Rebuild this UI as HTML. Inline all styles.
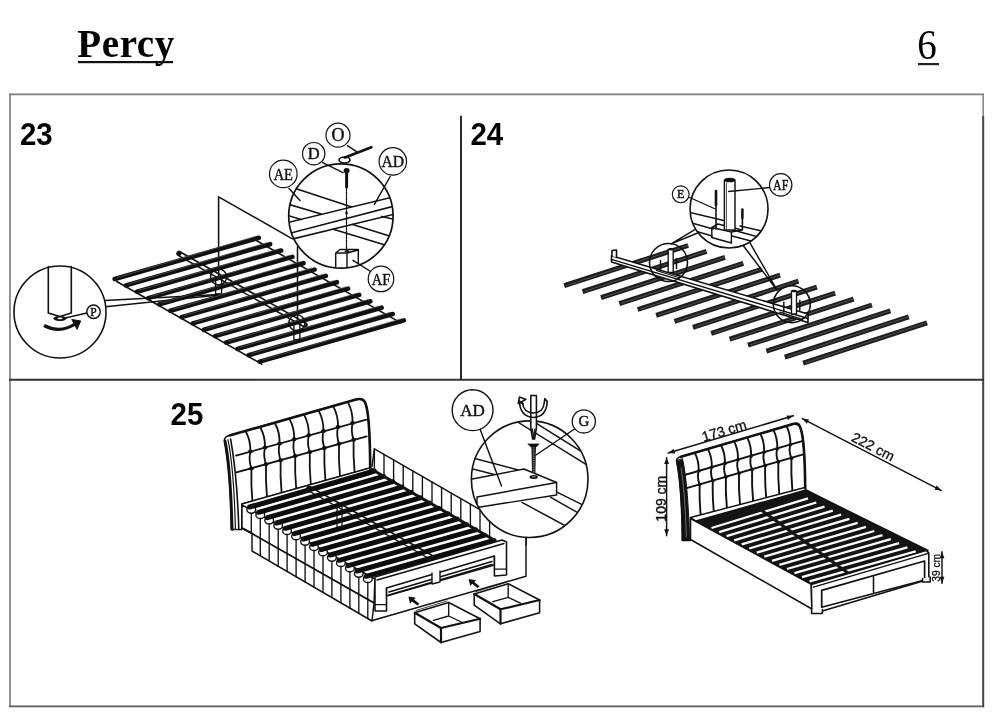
<!DOCTYPE html>
<html><head><meta charset="utf-8"><style>
html,body{margin:0;padding:0;background:#fff;}
body{width:1000px;height:714px;overflow:hidden;position:relative;font-family:"Liberation Serif",serif;}
.t{position:absolute;color:#000;line-height:1;white-space:nowrap;}
svg{position:absolute;left:0;top:0;will-change:transform;}
</style></head><body>
<svg width="1000" height="714" viewBox="0 0 1000 714" stroke-linecap="round" stroke-linejoin="round">
<text x="77.3" y="56.6" font-family="Liberation Serif" font-weight="bold" font-size="39" letter-spacing="0.6" fill="#000">Percy</text>
<rect x="78" y="61" width="95" height="2.2" fill="#111"/>
<text transform="translate(917.2,58.9) scale(0.93,1)" font-family="Liberation Serif" font-size="42" fill="#000">6</text>
<rect x="918" y="63" width="21" height="2.2" fill="#222"/>
<line x1="10" y1="94.4" x2="983.2" y2="94.4" stroke="#7c7c7c" stroke-width="1.6" stroke-linecap="square"/>
<line x1="10" y1="94.4" x2="10" y2="706.3" stroke="#767676" stroke-width="1.6" stroke-linecap="square"/>
<line x1="10" y1="706.3" x2="983.2" y2="706.3" stroke="#5c5c5c" stroke-width="1.8" stroke-linecap="square"/>
<line x1="983.2" y1="94.4" x2="983.2" y2="117" stroke="#888" stroke-width="1.6"/>
<line x1="983.2" y1="117" x2="983.2" y2="706.3" stroke="#444" stroke-width="2" stroke-linecap="square"/>
<line x1="10" y1="379.8" x2="983" y2="379.8" stroke="#333" stroke-width="2.1"/>
<line x1="461" y1="116.6" x2="461" y2="379" stroke="#2a2a2a" stroke-width="2"/>
<line x1="116.7" y1="281.5" x2="261.65000000000003" y2="364.05" stroke="#111" stroke-width="1.6"/>
<line x1="255.89999999999998" y1="240.3" x2="400.85" y2="322.85" stroke="#111" stroke-width="1.6"/>
<path d="M179,253.5 L305,325" stroke="#111" stroke-width="5.5"/>
<path d="M181,254.8 L305,325" stroke="#fff" stroke-width="2.4" stroke-linecap="butt"/>
<polyline points="218.6,276 218.6,196.8 292.4,238.8" fill="none" stroke="#111" stroke-width="1.55"/>
<line x1="297.5" y1="247" x2="297.5" y2="322" stroke="#111" stroke-width="1.55"/>
<polyline points="104.6,300.4 219,294.5" fill="none" stroke="#111" stroke-width="1.55"/>
<polyline points="105.4,306.8 219,295" fill="none" stroke="#111" stroke-width="1.55"/>
<line x1="114.7" y1="279.0" x2="258.9" y2="237.8" stroke="#111" stroke-width="4.6"/>
<line x1="117.7" y1="277.4" x2="255.9" y2="236.2" stroke="#666" stroke-width="0.6"/>
<line x1="125.9" y1="285.4" x2="270.1" y2="244.2" stroke="#111" stroke-width="4.6"/>
<line x1="128.9" y1="283.8" x2="267.1" y2="242.6" stroke="#666" stroke-width="0.6"/>
<line x1="137.0" y1="291.7" x2="281.2" y2="250.5" stroke="#111" stroke-width="4.6"/>
<line x1="140.0" y1="290.1" x2="278.2" y2="248.9" stroke="#666" stroke-width="0.6"/>
<line x1="148.2" y1="298.1" x2="292.4" y2="256.9" stroke="#111" stroke-width="4.6"/>
<line x1="151.2" y1="296.4" x2="289.4" y2="255.3" stroke="#666" stroke-width="0.6"/>
<line x1="159.3" y1="304.4" x2="303.5" y2="263.2" stroke="#111" stroke-width="4.6"/>
<line x1="162.3" y1="302.8" x2="300.5" y2="261.6" stroke="#666" stroke-width="0.6"/>
<line x1="170.4" y1="310.8" x2="314.6" y2="269.6" stroke="#111" stroke-width="4.6"/>
<line x1="173.4" y1="309.1" x2="311.6" y2="267.9" stroke="#666" stroke-width="0.6"/>
<line x1="181.6" y1="317.1" x2="325.8" y2="275.9" stroke="#111" stroke-width="4.6"/>
<line x1="184.6" y1="315.5" x2="322.8" y2="274.3" stroke="#666" stroke-width="0.6"/>
<line x1="192.8" y1="323.4" x2="336.9" y2="282.2" stroke="#111" stroke-width="4.6"/>
<line x1="195.8" y1="321.8" x2="333.9" y2="280.6" stroke="#666" stroke-width="0.6"/>
<line x1="203.9" y1="329.8" x2="348.1" y2="288.6" stroke="#111" stroke-width="4.6"/>
<line x1="206.9" y1="328.2" x2="345.1" y2="287.0" stroke="#666" stroke-width="0.6"/>
<line x1="215.1" y1="336.1" x2="359.2" y2="294.9" stroke="#111" stroke-width="4.6"/>
<line x1="218.1" y1="334.5" x2="356.2" y2="293.3" stroke="#666" stroke-width="0.6"/>
<line x1="226.2" y1="342.5" x2="370.4" y2="301.3" stroke="#111" stroke-width="4.6"/>
<line x1="229.2" y1="340.9" x2="367.4" y2="299.7" stroke="#666" stroke-width="0.6"/>
<line x1="237.4" y1="348.9" x2="381.6" y2="307.7" stroke="#111" stroke-width="4.6"/>
<line x1="240.4" y1="347.2" x2="378.6" y2="306.1" stroke="#666" stroke-width="0.6"/>
<line x1="248.5" y1="355.2" x2="392.7" y2="314.0" stroke="#111" stroke-width="4.6"/>
<line x1="251.5" y1="353.6" x2="389.7" y2="312.4" stroke="#666" stroke-width="0.6"/>
<line x1="259.7" y1="361.6" x2="403.9" y2="320.4" stroke="#111" stroke-width="4.6"/>
<line x1="262.7" y1="359.9" x2="400.9" y2="318.8" stroke="#666" stroke-width="0.6"/>
<rect x="215.6" y="276.9" width="6" height="17" fill="none" stroke="#111" stroke-width="1.35"/>
<circle cx="218.6" cy="276.9" r="8" fill="none" stroke="#111" stroke-width="1.45"/>
<rect x="293.9" y="322.8" width="6" height="17" fill="none" stroke="#111" stroke-width="1.35"/>
<circle cx="296.9" cy="322.8" r="8" fill="none" stroke="#111" stroke-width="1.45"/>
<circle cx="60" cy="312" r="46" fill="#fff" stroke="#111" stroke-width="1.6"/>
<path d="M48.3,266.5 L48.3,313 L60,316.5 L71.3,313 L71.3,266.5" fill="none" stroke="#111" stroke-width="1.6"/>
<ellipse cx="60" cy="318.5" rx="6.2" ry="2" fill="#111" stroke="#111" stroke-width="1"/>
<ellipse cx="60" cy="318.3" rx="2.6" ry="0.9" fill="#fff"/>
<path d="M44,325.5 Q60,334 76,323.5" fill="none" stroke="#111" stroke-width="3.2" stroke-linecap="butt"/>
<path d="M72,319.5 L80.5,321 L77,329 Z" fill="#111" stroke="#111" stroke-width="1.25"/>
<line x1="65" y1="318" x2="87" y2="313" stroke="#111" stroke-width="1.45"/>
<circle cx="93.5" cy="311.8" r="6.7" fill="#fff" stroke="#111" stroke-width="1.45"/>
<text x="93.5" y="315.8" text-anchor="middle" font-family="Liberation Serif" font-size="11.5" fill="#111" stroke="#111" stroke-width="0.4">P</text>
<defs><clipPath id="c23"><circle cx="340.9" cy="216" r="52.2"/></clipPath></defs>
<circle cx="340.9" cy="216" r="52.2" fill="#fff"/>
<g clip-path="url(#c23)" stroke="#111" stroke-width="1.55" fill="none"><line x1="297" y1="189" x2="351" y2="206.7"/><line x1="352.6" y1="224.4" x2="392" y2="236.8"/><line x1="286" y1="203.5" x2="321.2" y2="214"/><line x1="333.3" y1="229.2" x2="390" y2="246.5"/><line x1="286" y1="214.8" x2="301" y2="219.6"/><line x1="381.6" y1="216.4" x2="394" y2="219.3"/><line x1="286" y1="223" x2="396" y2="196.3"/><line x1="286" y1="234.3" x2="396" y2="205.6"/><line x1="286" y1="240.6" x2="396" y2="213.8"/></g>
<line x1="346.5" y1="186" x2="346.5" y2="250" stroke="#111" stroke-width="1.25" stroke-dasharray="2,1"/>
<circle cx="346.5" cy="213" r="1.3" fill="#111"/>
<path d="M335.7,253 L335.7,267 M347,253 L347,267.5 M358.3,250 L358.3,263.5 M335.7,253 L340,249.5 L358.3,249.5 L358.3,250 L347,253 Z" fill="none" stroke="#111" stroke-width="1.45"/>
<ellipse cx="347" cy="251.3" rx="2.6" ry="1" fill="#111"/>
<circle cx="340.9" cy="216" r="52.2" fill="none" stroke="#111" stroke-width="1.7"/>
<line x1="346.6" y1="172" x2="346.6" y2="187" stroke="#111" stroke-width="3"/>
<ellipse cx="346.6" cy="170.5" rx="3" ry="2.6" fill="#111"/>
<line x1="371.4" y1="147.2" x2="345" y2="157.5" stroke="#111" stroke-width="2.6"/>
<ellipse cx="344.5" cy="160" rx="5.5" ry="3" fill="none" stroke="#111" stroke-width="1.7"/>
<line x1="322.7" y1="162.7" x2="343" y2="172.7" stroke="#111" stroke-width="1.45"/>
<line x1="347.5" y1="145.7" x2="356.5" y2="151.7" stroke="#111" stroke-width="1.45"/>
<line x1="289" y1="188.5" x2="300" y2="200.4" stroke="#111" stroke-width="1.45"/>
<line x1="390.2" y1="176.5" x2="374.4" y2="204.4" stroke="#111" stroke-width="1.45"/>
<line x1="373" y1="273" x2="353" y2="260.3" stroke="#111" stroke-width="1.45"/>
<circle cx="338" cy="135.2" r="12" fill="#fff" stroke="#111" stroke-width="1.2"/>
<text transform="translate(338,141.47) scale(0.95,1)" text-anchor="middle" font-family="Liberation Serif" font-size="19" fill="#111" stroke="#111" stroke-width="0.45">O</text>
<circle cx="313.7" cy="153.7" r="11.2" fill="#fff" stroke="#111" stroke-width="1.2"/>
<text transform="translate(313.7,159.14) scale(1.0,1)" text-anchor="middle" font-family="Liberation Serif" font-size="16.5" fill="#111" stroke="#111" stroke-width="0.45">D</text>
<circle cx="283.3" cy="173.9" r="13.8" fill="#fff" stroke="#111" stroke-width="1.2"/>
<text transform="translate(283.3,179.51) scale(0.85,1)" text-anchor="middle" font-family="Liberation Serif" font-size="17" fill="#111" stroke="#111" stroke-width="0.45">AE</text>
<circle cx="392.8" cy="161.4" r="13.7" fill="#fff" stroke="#111" stroke-width="1.2"/>
<text transform="translate(392.8,167.14) scale(0.9,1)" text-anchor="middle" font-family="Liberation Serif" font-size="17.4" fill="#111" stroke="#111" stroke-width="0.45">AD</text>
<circle cx="381" cy="278.9" r="12.8" fill="#fff" stroke="#111" stroke-width="1.2"/>
<text transform="translate(381,284.51) scale(0.85,1)" text-anchor="middle" font-family="Liberation Serif" font-size="17" fill="#111" stroke="#111" stroke-width="0.45">AF</text>
<line x1="564.2" y1="285.7" x2="688.2" y2="245.5" stroke="#1e1e1e" stroke-width="4.9" stroke-linecap="butt"/>
<line x1="566.2" y1="285.5" x2="688.2" y2="245.3" stroke="#5a5a5a" stroke-width="0.8" stroke-linecap="butt"/>
<line x1="582.6" y1="291.6" x2="706.6" y2="251.4" stroke="#1e1e1e" stroke-width="4.9" stroke-linecap="butt"/>
<line x1="584.6" y1="291.4" x2="706.6" y2="251.2" stroke="#5a5a5a" stroke-width="0.8" stroke-linecap="butt"/>
<line x1="601.0" y1="297.6" x2="725.0" y2="257.4" stroke="#1e1e1e" stroke-width="4.9" stroke-linecap="butt"/>
<line x1="603.0" y1="297.4" x2="725.0" y2="257.2" stroke="#5a5a5a" stroke-width="0.8" stroke-linecap="butt"/>
<line x1="619.3" y1="303.6" x2="743.3" y2="263.4" stroke="#1e1e1e" stroke-width="4.9" stroke-linecap="butt"/>
<line x1="621.3" y1="303.4" x2="743.3" y2="263.2" stroke="#5a5a5a" stroke-width="0.8" stroke-linecap="butt"/>
<line x1="637.7" y1="309.5" x2="761.7" y2="269.3" stroke="#1e1e1e" stroke-width="4.9" stroke-linecap="butt"/>
<line x1="639.7" y1="309.3" x2="761.7" y2="269.1" stroke="#5a5a5a" stroke-width="0.8" stroke-linecap="butt"/>
<line x1="656.1" y1="315.4" x2="780.1" y2="275.2" stroke="#1e1e1e" stroke-width="4.9" stroke-linecap="butt"/>
<line x1="658.1" y1="315.2" x2="780.1" y2="275.1" stroke="#5a5a5a" stroke-width="0.8" stroke-linecap="butt"/>
<line x1="674.5" y1="321.4" x2="798.5" y2="281.2" stroke="#1e1e1e" stroke-width="4.9" stroke-linecap="butt"/>
<line x1="676.5" y1="321.2" x2="798.5" y2="281.0" stroke="#5a5a5a" stroke-width="0.8" stroke-linecap="butt"/>
<line x1="692.9" y1="327.3" x2="816.9" y2="287.1" stroke="#1e1e1e" stroke-width="4.9" stroke-linecap="butt"/>
<line x1="694.9" y1="327.1" x2="816.9" y2="286.9" stroke="#5a5a5a" stroke-width="0.8" stroke-linecap="butt"/>
<line x1="711.2" y1="333.3" x2="835.2" y2="293.1" stroke="#1e1e1e" stroke-width="4.9" stroke-linecap="butt"/>
<line x1="713.2" y1="333.1" x2="835.2" y2="292.9" stroke="#5a5a5a" stroke-width="0.8" stroke-linecap="butt"/>
<line x1="729.6" y1="339.2" x2="853.6" y2="299.1" stroke="#1e1e1e" stroke-width="4.9" stroke-linecap="butt"/>
<line x1="731.6" y1="339.1" x2="853.6" y2="298.9" stroke="#5a5a5a" stroke-width="0.8" stroke-linecap="butt"/>
<line x1="748.0" y1="345.2" x2="872.0" y2="305.0" stroke="#1e1e1e" stroke-width="4.9" stroke-linecap="butt"/>
<line x1="750.0" y1="345.0" x2="872.0" y2="304.8" stroke="#5a5a5a" stroke-width="0.8" stroke-linecap="butt"/>
<line x1="766.4" y1="351.1" x2="890.4" y2="310.9" stroke="#1e1e1e" stroke-width="4.9" stroke-linecap="butt"/>
<line x1="768.4" y1="350.9" x2="890.4" y2="310.8" stroke="#5a5a5a" stroke-width="0.8" stroke-linecap="butt"/>
<line x1="784.8" y1="357.1" x2="908.8" y2="316.9" stroke="#1e1e1e" stroke-width="4.9" stroke-linecap="butt"/>
<line x1="786.8" y1="356.9" x2="908.8" y2="316.7" stroke="#5a5a5a" stroke-width="0.8" stroke-linecap="butt"/>
<line x1="803.1" y1="363.1" x2="927.1" y2="322.9" stroke="#1e1e1e" stroke-width="4.9" stroke-linecap="butt"/>
<line x1="805.1" y1="362.9" x2="927.1" y2="322.7" stroke="#5a5a5a" stroke-width="0.8" stroke-linecap="butt"/>
<path d="M611.5,255.8 L808,314 L808,322.5 L611.5,262 Z" fill="#fff" stroke="#111" stroke-width="1.6"/>
<line x1="611.5" y1="259.3" x2="808" y2="318.5" stroke="#111" stroke-width="1.35"/>
<path d="M612,256 L612,250.5 L616.5,250 L616.5,257.5" fill="#fff" stroke="#111" stroke-width="1.6"/>
<circle cx="668.5" cy="262.5" r="19" fill="none" stroke="#111" stroke-width="1.55"/>
<rect x="668.2" y="249.3" width="5" height="23" fill="#fff" stroke="#111" stroke-width="1.35"/>
<ellipse cx="670.7" cy="249.3" rx="2.5" ry="1.2" fill="#111"/>
<line x1="660.5" y1="260.5" x2="660.5" y2="270.5" stroke="#111" stroke-width="1.45"/>
<line x1="676.5" y1="258.5" x2="676.5" y2="268.5" stroke="#111" stroke-width="1.45"/>
<path d="M656.5,270.5 L678.5,277.5 L682.5,275.5" fill="none" stroke="#111" stroke-width="1.25"/>
<circle cx="791.8" cy="304.2" r="18.5" fill="none" stroke="#111" stroke-width="1.55"/>
<rect x="791.5" y="291.0" width="5" height="23" fill="#fff" stroke="#111" stroke-width="1.35"/>
<ellipse cx="794.0" cy="291.0" rx="2.5" ry="1.2" fill="#111"/>
<line x1="783.8" y1="302.2" x2="783.8" y2="312.2" stroke="#111" stroke-width="1.45"/>
<line x1="799.8" y1="300.2" x2="799.8" y2="310.2" stroke="#111" stroke-width="1.45"/>
<path d="M779.8,312.2 L801.8,319.2 L805.8,317.2" fill="none" stroke="#111" stroke-width="1.25"/>
<polyline points="694.4,229.8 671.2,243.8 697.6,233" fill="none" stroke="#111" stroke-width="1.45"/>
<polyline points="742,244 777.1,290.2 749.8,242.6" fill="none" stroke="#111" stroke-width="1.45"/>
<defs><clipPath id="c24"><circle cx="729" cy="209" r="39"/></clipPath></defs>
<circle cx="729" cy="209" r="39" fill="#fff"/>
<g clip-path="url(#c24)" stroke="#111" stroke-width="1.45" fill="none"><line x1="688" y1="212" x2="730" y2="222"/><line x1="688" y1="222" x2="713" y2="229"/><line x1="688" y1="229" x2="712" y2="236"/><line x1="731" y1="229.5" x2="770" y2="240"/><line x1="732" y1="236" x2="770" y2="246"/><line x1="740" y1="226" x2="770" y2="233"/><path d="M711.8,227.5 L711.8,237.5 L731.4,243 L731.4,232 Z M711.8,227.5 L718,224 L742,230 L731.4,232"/></g>
<rect x="724.4" y="180" width="10.6" height="50" fill="#fff" stroke="#111" stroke-width="1.45"/>
<ellipse cx="729.7" cy="180" rx="5.3" ry="2.3" fill="#111"/>
<line x1="726.5" y1="183" x2="726.5" y2="229" stroke="#111" stroke-width="0.7"/>
<line x1="716" y1="191" x2="716" y2="229" stroke="#111" stroke-width="1.6"/>
<line x1="716" y1="191" x2="716" y2="205" stroke="#111" stroke-width="2.6"/>
<line x1="742.4" y1="209.5" x2="742.4" y2="230" stroke="#111" stroke-width="1.6"/>
<line x1="742.4" y1="209.5" x2="742.4" y2="218" stroke="#111" stroke-width="2.4"/>
<circle cx="729" cy="209" r="39" fill="none" stroke="#111" stroke-width="1.6"/>
<line x1="688.5" y1="197" x2="715.3" y2="209" stroke="#111" stroke-width="1.35"/>
<line x1="769.8" y1="187.5" x2="728.6" y2="191.5" stroke="#111" stroke-width="1.35"/>
<circle cx="680.7" cy="194.3" r="8.4" fill="#fff" stroke="#111" stroke-width="1.1"/>
<text transform="translate(680.7,198.26) scale(1.0,1)" text-anchor="middle" font-family="Liberation Serif" font-size="12" fill="#111" stroke="#111" stroke-width="0.45">E</text>
<circle cx="780.7" cy="184.9" r="11.2" fill="#fff" stroke="#111" stroke-width="1.2"/>
<text transform="translate(780.7,189.52) scale(0.85,1)" text-anchor="middle" font-family="Liberation Serif" font-size="14" fill="#111" stroke="#111" stroke-width="0.45">AF</text>
<path d="M374.4,448.8 L525.7,536.0 L525.7,576.0 L372.0,466.5 Z" fill="#fff" stroke="none"/>
<path d="M372.0,466.5 L374.4,448.8 L525.7,536.0" fill="none" stroke="#111" stroke-width="1.45"/>
<line x1="374.4" y1="448.8" x2="374.4" y2="469.9" stroke="#111" stroke-width="1.35"/>
<line x1="384.0" y1="454.3" x2="384.0" y2="475.7" stroke="#111" stroke-width="1.35"/>
<line x1="393.6" y1="459.9" x2="393.6" y2="481.5" stroke="#111" stroke-width="1.35"/>
<line x1="403.2" y1="465.4" x2="403.2" y2="487.2" stroke="#111" stroke-width="1.35"/>
<line x1="412.8" y1="470.9" x2="412.8" y2="493.0" stroke="#111" stroke-width="1.35"/>
<line x1="422.4" y1="476.4" x2="422.4" y2="498.7" stroke="#111" stroke-width="1.35"/>
<line x1="432.0" y1="482.0" x2="432.0" y2="504.5" stroke="#111" stroke-width="1.35"/>
<line x1="441.6" y1="487.5" x2="441.6" y2="510.3" stroke="#111" stroke-width="1.35"/>
<line x1="451.2" y1="493.0" x2="451.2" y2="516.0" stroke="#111" stroke-width="1.35"/>
<line x1="460.8" y1="498.6" x2="460.8" y2="521.8" stroke="#111" stroke-width="1.35"/>
<line x1="470.4" y1="504.1" x2="470.4" y2="527.5" stroke="#111" stroke-width="1.35"/>
<line x1="480.0" y1="509.6" x2="480.0" y2="533.3" stroke="#111" stroke-width="1.35"/>
<line x1="489.6" y1="515.2" x2="489.6" y2="539.1" stroke="#111" stroke-width="1.35"/>
<path d="M224.3,441 Q224.3,436.5 229.5,435.5 L356,399.5 Q363.5,397.5 365.5,403.5 C368.5,411 370,432 370.2,468 L241.8,504 L241.8,529.5 L231.2,529.5 C230.5,480 227,455 224.3,441 Z" fill="#fff" stroke="#111" stroke-width="1.6"/>
<path d="M229.5,435.5 L356,399.5 Q363.5,397.5 365.5,403.5 C368.5,411 370,432 370.2,468" fill="none" stroke="#111" stroke-width="2.6"/>
<path d="M225.2,441 C228,455 231,480 232.2,529.5" fill="none" stroke="#111" stroke-width="2.6"/>
<path d="M228,439.5 C231,455 234.3,480 235.4,529.5" fill="none" stroke="#111" stroke-width="1.2"/>
<path d="M230.6,439 C233.5,455 237.3,478 238.8,529.5" fill="none" stroke="#111" stroke-width="1.6"/>
<path d="M236.0,455.6 L366.4,419.6" fill="none" stroke="#111" stroke-width="1.8"/>
<path d="M236.3,472.4 L366.7,436.4" fill="none" stroke="#111" stroke-width="1.8"/>
<path d="M245.9,431.8 Q250.7,440.7 250.4,451.6 Q248.4,460.0 251.4,468.4 Q250.9,484.7 252.4,501.0" fill="none" stroke="#111" stroke-width="1.8"/>
<ellipse cx="250.4" cy="451.6" rx="2.4" ry="2.0" fill="#111"/>
<ellipse cx="251.4" cy="468.4" rx="2.4" ry="2.0" fill="#111"/>
<path d="M260.5,427.7 Q265.3,436.6 265.0,447.5 Q263.0,455.9 266.0,464.3 Q265.5,480.6 267.0,496.9" fill="none" stroke="#111" stroke-width="1.8"/>
<ellipse cx="265.0" cy="447.5" rx="2.4" ry="2.0" fill="#111"/>
<ellipse cx="266.0" cy="464.3" rx="2.4" ry="2.0" fill="#111"/>
<path d="M275.1,423.5 Q279.9,432.5 279.6,443.4 Q277.6,451.8 280.6,460.2 Q280.1,476.5 281.6,492.8" fill="none" stroke="#111" stroke-width="1.8"/>
<ellipse cx="279.6" cy="443.4" rx="2.4" ry="2.0" fill="#111"/>
<ellipse cx="280.6" cy="460.2" rx="2.4" ry="2.0" fill="#111"/>
<path d="M289.7,419.4 Q294.5,428.3 294.2,439.3 Q292.2,447.7 295.2,456.1 Q294.7,472.4 296.2,488.7" fill="none" stroke="#111" stroke-width="1.8"/>
<ellipse cx="294.2" cy="439.3" rx="2.4" ry="2.0" fill="#111"/>
<ellipse cx="295.2" cy="456.1" rx="2.4" ry="2.0" fill="#111"/>
<path d="M304.3,415.2 Q309.1,424.2 308.8,435.2 Q306.8,443.6 309.8,452.0 Q309.3,468.3 310.8,484.6" fill="none" stroke="#111" stroke-width="1.8"/>
<ellipse cx="308.8" cy="435.2" rx="2.4" ry="2.0" fill="#111"/>
<ellipse cx="309.8" cy="452.0" rx="2.4" ry="2.0" fill="#111"/>
<path d="M318.9,411.1 Q323.7,420.1 323.4,431.1 Q321.4,439.5 324.4,447.9 Q323.9,464.2 325.4,480.5" fill="none" stroke="#111" stroke-width="1.8"/>
<ellipse cx="323.4" cy="431.1" rx="2.4" ry="2.0" fill="#111"/>
<ellipse cx="324.4" cy="447.9" rx="2.4" ry="2.0" fill="#111"/>
<path d="M333.5,406.9 Q338.3,415.9 338.0,427.0 Q336.0,435.4 339.0,443.8 Q338.5,460.1 340.0,476.3" fill="none" stroke="#111" stroke-width="1.8"/>
<ellipse cx="338.0" cy="427.0" rx="2.4" ry="2.0" fill="#111"/>
<ellipse cx="339.0" cy="443.8" rx="2.4" ry="2.0" fill="#111"/>
<path d="M348.1,402.7 Q352.9,411.8 352.6,422.9 Q350.6,431.3 353.6,439.7 Q353.1,456.0 354.6,472.2" fill="none" stroke="#111" stroke-width="1.8"/>
<ellipse cx="352.6" cy="422.9" rx="2.4" ry="2.0" fill="#111"/>
<ellipse cx="353.6" cy="439.7" rx="2.4" ry="2.0" fill="#111"/>
<path d="M241.8,504 L369.6,468 L494.0,540.5 L372.0,578.0 Z" fill="#fff" stroke="none"/>
<path d="M241.8,504 L369.6,468 L371,474 L244,510.5 Z" fill="#fff" stroke="#111" stroke-width="1.45"/>
<path d="M309,488.5 L438,561" stroke="#111" stroke-width="5.6"/>
<path d="M309.5,489 L437.5,561" stroke="#fff" stroke-width="2.6"/>
<path d="M242.0,505.0 L375.0,579.0 L374.0,603.0 L242.0,528.0 Z" fill="#fff" stroke="#111" stroke-width="1.45"/>
<path d="M242.0,528.0 L374.0,603.0 L372.0,621.0 L252.0,551.0 L252,533 Z" fill="#fff" stroke="#111" stroke-width="1.45"/>
<line x1="251.3" y1="512.6" x2="251.3" y2="533.3" stroke="#111" stroke-width="1.35"/>
<ellipse cx="251.3" cy="509.6" rx="4.4" ry="3.6" fill="#fff" stroke="#111" stroke-width="1.4"/>
<line x1="260.3" y1="517.9" x2="260.3" y2="555.8" stroke="#111" stroke-width="1.35"/>
<ellipse cx="260.3" cy="514.9" rx="4.4" ry="3.6" fill="#fff" stroke="#111" stroke-width="1.4"/>
<line x1="269.2" y1="523.3" x2="269.2" y2="561.0" stroke="#111" stroke-width="1.35"/>
<ellipse cx="269.2" cy="520.3" rx="4.4" ry="3.6" fill="#fff" stroke="#111" stroke-width="1.4"/>
<line x1="278.2" y1="528.6" x2="278.2" y2="566.3" stroke="#111" stroke-width="1.35"/>
<ellipse cx="278.2" cy="525.6" rx="4.4" ry="3.6" fill="#fff" stroke="#111" stroke-width="1.4"/>
<line x1="287.1" y1="533.9" x2="287.1" y2="571.5" stroke="#111" stroke-width="1.35"/>
<ellipse cx="287.1" cy="530.9" rx="4.4" ry="3.6" fill="#fff" stroke="#111" stroke-width="1.4"/>
<line x1="296.1" y1="539.2" x2="296.1" y2="576.7" stroke="#111" stroke-width="1.35"/>
<ellipse cx="296.1" cy="536.2" rx="4.4" ry="3.6" fill="#fff" stroke="#111" stroke-width="1.4"/>
<line x1="305.1" y1="544.6" x2="305.1" y2="581.9" stroke="#111" stroke-width="1.35"/>
<ellipse cx="305.1" cy="541.6" rx="4.4" ry="3.6" fill="#fff" stroke="#111" stroke-width="1.4"/>
<line x1="314.0" y1="549.9" x2="314.0" y2="587.2" stroke="#111" stroke-width="1.35"/>
<ellipse cx="314.0" cy="546.9" rx="4.4" ry="3.6" fill="#fff" stroke="#111" stroke-width="1.4"/>
<line x1="323.0" y1="555.2" x2="323.0" y2="592.4" stroke="#111" stroke-width="1.35"/>
<ellipse cx="323.0" cy="552.2" rx="4.4" ry="3.6" fill="#fff" stroke="#111" stroke-width="1.4"/>
<line x1="331.9" y1="560.6" x2="331.9" y2="597.6" stroke="#111" stroke-width="1.35"/>
<ellipse cx="331.9" cy="557.6" rx="4.4" ry="3.6" fill="#fff" stroke="#111" stroke-width="1.4"/>
<line x1="340.9" y1="565.9" x2="340.9" y2="602.8" stroke="#111" stroke-width="1.35"/>
<ellipse cx="340.9" cy="562.9" rx="4.4" ry="3.6" fill="#fff" stroke="#111" stroke-width="1.4"/>
<line x1="349.9" y1="571.2" x2="349.9" y2="608.1" stroke="#111" stroke-width="1.35"/>
<ellipse cx="349.9" cy="568.2" rx="4.4" ry="3.6" fill="#fff" stroke="#111" stroke-width="1.4"/>
<line x1="358.8" y1="576.6" x2="358.8" y2="613.3" stroke="#111" stroke-width="1.35"/>
<ellipse cx="358.8" cy="573.6" rx="4.4" ry="3.6" fill="#fff" stroke="#111" stroke-width="1.4"/>
<line x1="367.8" y1="581.9" x2="367.8" y2="618.5" stroke="#111" stroke-width="1.35"/>
<ellipse cx="367.8" cy="578.9" rx="4.4" ry="3.6" fill="#fff" stroke="#111" stroke-width="1.4"/>
<line x1="249.6" y1="507.0" x2="374.4" y2="471.0" stroke="#0d0d0d" stroke-width="5"/>
<line x1="258.6" y1="512.3" x2="383.6" y2="476.4" stroke="#0d0d0d" stroke-width="5"/>
<line x1="267.5" y1="517.7" x2="392.8" y2="481.7" stroke="#0d0d0d" stroke-width="5"/>
<line x1="276.5" y1="523.0" x2="402.0" y2="487.1" stroke="#0d0d0d" stroke-width="5"/>
<line x1="285.4" y1="528.3" x2="411.2" y2="492.4" stroke="#0d0d0d" stroke-width="5"/>
<line x1="294.4" y1="533.6" x2="420.4" y2="497.8" stroke="#0d0d0d" stroke-width="5"/>
<line x1="303.4" y1="539.0" x2="429.6" y2="503.1" stroke="#0d0d0d" stroke-width="5"/>
<line x1="312.3" y1="544.3" x2="438.8" y2="508.4" stroke="#0d0d0d" stroke-width="5"/>
<line x1="321.3" y1="549.6" x2="448.0" y2="513.8" stroke="#0d0d0d" stroke-width="5"/>
<line x1="330.2" y1="555.0" x2="457.2" y2="519.1" stroke="#0d0d0d" stroke-width="5"/>
<line x1="339.2" y1="560.3" x2="466.4" y2="524.5" stroke="#0d0d0d" stroke-width="5"/>
<line x1="348.2" y1="565.6" x2="475.6" y2="529.9" stroke="#0d0d0d" stroke-width="5"/>
<line x1="357.1" y1="571.0" x2="484.8" y2="535.2" stroke="#0d0d0d" stroke-width="5"/>
<line x1="366.1" y1="576.3" x2="494.0" y2="540.5" stroke="#0d0d0d" stroke-width="5"/>
<line x1="372.0" y1="469.5" x2="495.0" y2="540.5" stroke="#111" stroke-width="3"/>
<rect x="337" y="504" width="5" height="23" fill="none" stroke="#111" stroke-width="1.25"/>
<path d="M375,577 L502,540 L506.5,542 L506.5,575 L494.4,576 L494.4,556 L386.5,588 L386.5,611 L375,611 Z" fill="#fff" stroke="#111" stroke-width="1.55"/>
<path d="M377,580 L504,543.5" fill="none" stroke="#111" stroke-width="1.35"/>
<path d="M386.5,588 L386.5,596 L494.4,565 L494.4,556" fill="none" stroke="#111" stroke-width="1.35"/>
<path d="M389,592 L492,561.5 M389,595 L492,564.5" fill="none" stroke="#111" stroke-width="1.6"/>
<path d="M375,604.5 L386.5,604.5 M494.4,569 L506.5,569" fill="none" stroke="#111" stroke-width="1.25"/>
<path d="M432,573 L432,584 L440,582 L440,571" fill="#fff" stroke="#111" stroke-width="1.35"/>
<path d="M371.6,620.7 L526,576.2 L526,537" fill="none" stroke="#111" stroke-width="1.45"/>
<path d="M414.7,612.7 L448.7,602.5 L480.1,618.7 L480.1,631.4 L441.0,642.5 L414.7,623.8 Z" fill="#fff" stroke="#111" stroke-width="1.55"/>
<path d="M414.7,612.7 L441.0,628.0 L480.1,618.7" fill="none" stroke="#111" stroke-width="2.2"/>
<path d="M441.0,628.0 L441.0,642.5" fill="none" stroke="#111" stroke-width="2.2"/>
<path d="M448.7,602.5 L448.7,616.0 L433.4,620.4 M448.7,616.0 L461.4,622.0" fill="none" stroke="#111" stroke-width="1.35"/>
<path d="M416.0,610.5 L447.0,601.0" fill="none" stroke="#111" stroke-width="0.8"/>
<path d="M474.2,594.0 L508.2,583.8 L539.6,600.0 L539.6,612.7 L500.5,623.8 L474.2,605.1 Z" fill="#fff" stroke="#111" stroke-width="1.55"/>
<path d="M474.2,594.0 L500.5,609.3 L539.6,600.0" fill="none" stroke="#111" stroke-width="2.2"/>
<path d="M500.5,609.3 L500.5,623.8" fill="none" stroke="#111" stroke-width="2.2"/>
<path d="M508.2,583.8 L508.2,597.3 L492.9,601.7 M508.2,597.3 L520.9,603.3" fill="none" stroke="#111" stroke-width="1.35"/>
<path d="M475.5,591.8 L506.5,582.3" fill="none" stroke="#111" stroke-width="0.8"/>
<path d="M408.4,596.6 L415.9,597.8000000000001 L414.0,599.6 L419.4,603.8000000000001 L417.4,605.6 L412.0,601.4 L410.0,603.6 Z" fill="#111"/>
<path d="M468.6,579 L476.1,580.2 L474.20000000000005,582 L479.6,586.2 L477.6,588 L472.20000000000005,583.8 L470.20000000000005,586 Z" fill="#111"/>
<defs><clipPath id="c25"><circle cx="529.7" cy="479.2" r="58.3"/></clipPath></defs>
<circle cx="529.7" cy="479.2" r="58.3" fill="#fff"/>
<g clip-path="url(#c25)" stroke="#111" stroke-width="1.45" fill="none"><line x1="465" y1="456" x2="520" y2="470.5"/><line x1="465" y1="467" x2="500" y2="476"/><line x1="516" y1="421" x2="595" y2="470"/><line x1="523" y1="415" x2="595" y2="460"/><line x1="557.4" y1="492.3" x2="595" y2="511"/><line x1="550.7" y1="497.3" x2="595" y2="522.5"/><line x1="522" y1="502.4" x2="575" y2="531"/><path d="M465,480.5 L524,469 L556.6,482.5 L556.6,495 L477,507.5 L465,508 Z" fill="#fff"/><path d="M477,497 L556.6,482.5 M477,497 L477,507.5"/></g>
<circle cx="529.7" cy="479.2" r="58.3" fill="none" stroke="#111" stroke-width="1.6"/>
<ellipse cx="533.7" cy="477" rx="4.2" ry="1.9" fill="#111"/>
<ellipse cx="533.7" cy="476.8" rx="2" ry="0.8" fill="#888"/>
<path d="M531.4,446 L536,446 L535.4,473 L532,473 Z" fill="#222"/>
<line x1="533.7" y1="447" x2="533.7" y2="473" stroke="#999" stroke-width="1.2" stroke-dasharray="1,1.2" stroke-linecap="butt"/>
<path d="M528.2,444 L539.2,444 L536,447 L531.4,447 Z" fill="#111" stroke="#111" stroke-width="0.8"/>
<path d="M530.8,395.4 L536.4,395.4 L536.4,428 L534.6,439 L532.6,439 L530.8,428 Z" fill="#fff" stroke="#111" stroke-width="1.55"/>
<path d="M532.3,429 L533.6,438 M534.9,429 L533.6,438" fill="none" stroke="#111" stroke-width="1.25"/>
<path d="M519.5,401.5 Q520,416.5 533.4,417.5 Q546.8,416.5 547.2,401.5" fill="none" stroke="#111" stroke-width="1.6"/>
<path d="M522.5,403 Q523.5,412.5 533.4,413 Q543.5,412.5 544.2,403" fill="none" stroke="#111" stroke-width="1.55"/>
<path d="M544.2,403 L544.8,398.5 L547.2,401.5" fill="none" stroke="#111" stroke-width="1.45"/>
<path d="M518.2,403.5 L519.5,397 L526,399.4 Z" fill="#fff" stroke="#111" stroke-width="1.55"/>
<path d="M519.2,401 L523,404" fill="none" stroke="#111" stroke-width="1.6"/>
<line x1="480" y1="429" x2="501.5" y2="486" stroke="#111" stroke-width="1.45"/>
<line x1="576" y1="428" x2="536" y2="455" stroke="#111" stroke-width="1.45"/>
<circle cx="472.6" cy="410.2" r="20.4" fill="#fff" stroke="#111" stroke-width="1.4"/>
<text transform="translate(472.6,415.81) scale(1.0,1)" text-anchor="middle" font-family="Liberation Serif" font-size="17" fill="#111" stroke="#111" stroke-width="0.45">AD</text>
<circle cx="583.8" cy="421.4" r="11.6" fill="#fff" stroke="#111" stroke-width="1.3"/>
<text transform="translate(583.8,426.35) scale(1.0,1)" text-anchor="middle" font-family="Liberation Serif" font-size="15" fill="#111" stroke="#111" stroke-width="0.45">G</text>
<line x1="526.3" y1="537.5" x2="526.3" y2="545" stroke="#111" stroke-width="1.45"/>
<path d="M676.6,461 Q676.6,457.5 681,456.8 L793,424 Q799,422.5 800.5,428 C803.5,436 805,456 805.2,489.5 L690.5,518 L690.5,540.5 L682.3,540.5 C682,500 679.5,475 676.6,461 Z" fill="#fff" stroke="#111" stroke-width="1.6"/>
<path d="M681,456.8 L793,424 Q799,422.5 800.5,428 C803.5,436 805,456 805.2,489.5" fill="none" stroke="#111" stroke-width="2.6"/>
<path d="M676.6,461 C679.5,475 682,500 682.3,540.5 L689.5,540.5 C688.5,500 686,475 682.6,459 Z" fill="#111" stroke="#111" stroke-width="1"/>
<path d="M681.2,468 C683.5,485 685.5,505 686.3,537" fill="none" stroke="#888" stroke-width="0.8"/>
<path d="M684.6,475.0 L803.0,440.8" fill="none" stroke="#111" stroke-width="1.9"/>
<path d="M684.9,488.6 L803.3,454.4" fill="none" stroke="#111" stroke-width="1.9"/>
<path d="M695.2,453.6 Q699.0,461.4 698.7,470.9 Q696.7,477.7 699.7,484.5 Q699.2,499.7 700.7,514.8" fill="none" stroke="#111" stroke-width="1.9"/>
<ellipse cx="698.7" cy="470.9" rx="2.0" ry="1.7" fill="#111"/>
<ellipse cx="699.7" cy="484.5" rx="2.0" ry="1.7" fill="#111"/>
<path d="M708.3,449.8 Q712.1,457.6 711.8,467.1 Q709.8,473.9 712.8,480.8 Q712.3,496.1 713.8,511.4" fill="none" stroke="#111" stroke-width="1.9"/>
<ellipse cx="711.8" cy="467.1" rx="2.0" ry="1.7" fill="#111"/>
<ellipse cx="712.8" cy="480.8" rx="2.0" ry="1.7" fill="#111"/>
<path d="M721.4,446.0 Q725.2,453.8 724.9,463.4 Q722.9,470.2 725.9,477.0 Q725.4,492.5 726.9,508.0" fill="none" stroke="#111" stroke-width="1.9"/>
<ellipse cx="724.9" cy="463.4" rx="2.0" ry="1.7" fill="#111"/>
<ellipse cx="725.9" cy="477.0" rx="2.0" ry="1.7" fill="#111"/>
<path d="M734.5,442.1 Q738.3,450.0 738.0,459.6 Q736.0,466.4 739.0,473.2 Q738.5,488.9 740.0,504.5" fill="none" stroke="#111" stroke-width="1.9"/>
<ellipse cx="738.0" cy="459.6" rx="2.0" ry="1.7" fill="#111"/>
<ellipse cx="739.0" cy="473.2" rx="2.0" ry="1.7" fill="#111"/>
<path d="M747.6,438.3 Q751.4,446.2 751.1,455.9 Q749.1,462.7 752.1,469.5 Q751.6,485.3 753.1,501.1" fill="none" stroke="#111" stroke-width="1.9"/>
<ellipse cx="751.1" cy="455.9" rx="2.0" ry="1.7" fill="#111"/>
<ellipse cx="752.1" cy="469.5" rx="2.0" ry="1.7" fill="#111"/>
<path d="M760.7,434.5 Q764.5,442.4 764.2,452.1 Q762.2,458.9 765.2,465.8 Q764.7,481.7 766.2,497.6" fill="none" stroke="#111" stroke-width="1.9"/>
<ellipse cx="764.2" cy="452.1" rx="2.0" ry="1.7" fill="#111"/>
<ellipse cx="765.2" cy="465.8" rx="2.0" ry="1.7" fill="#111"/>
<path d="M773.8,430.6 Q777.6,438.6 777.3,448.4 Q775.3,455.2 778.3,462.0 Q777.8,478.1 779.3,494.2" fill="none" stroke="#111" stroke-width="1.9"/>
<ellipse cx="777.3" cy="448.4" rx="2.0" ry="1.7" fill="#111"/>
<ellipse cx="778.3" cy="462.0" rx="2.0" ry="1.7" fill="#111"/>
<path d="M786.9,426.8 Q790.7,434.8 790.4,444.6 Q788.4,451.4 791.4,458.2 Q790.9,474.5 792.4,490.8" fill="none" stroke="#111" stroke-width="1.9"/>
<ellipse cx="790.4" cy="444.6" rx="2.0" ry="1.7" fill="#111"/>
<ellipse cx="791.4" cy="458.2" rx="2.0" ry="1.7" fill="#111"/>
<path d="M690.5,517.5 L804.9,487.5 L806,493.5 L707,524.5 L696,521 Z" fill="#fff" stroke="#111" stroke-width="1.45"/>
<path d="M696,521 L806,490 L928,550.5 L812,584.5 Z" fill="#141414" stroke="#111" stroke-width="1.45"/>
<line x1="711.5" y1="528.0" x2="808.0" y2="498.4" stroke="#fff" stroke-width="2.3" stroke-linecap="butt"/>
<line x1="719.1" y1="532.1" x2="816.3" y2="502.5" stroke="#fff" stroke-width="2.3" stroke-linecap="butt"/>
<line x1="726.6" y1="536.2" x2="824.5" y2="506.6" stroke="#fff" stroke-width="2.3" stroke-linecap="butt"/>
<line x1="734.2" y1="540.3" x2="832.8" y2="510.7" stroke="#fff" stroke-width="2.3" stroke-linecap="butt"/>
<line x1="741.7" y1="544.4" x2="841.1" y2="514.7" stroke="#fff" stroke-width="2.3" stroke-linecap="butt"/>
<line x1="749.2" y1="548.5" x2="849.4" y2="518.8" stroke="#fff" stroke-width="2.3" stroke-linecap="butt"/>
<line x1="756.8" y1="552.6" x2="857.7" y2="522.9" stroke="#fff" stroke-width="2.3" stroke-linecap="butt"/>
<line x1="764.3" y1="556.7" x2="866.0" y2="526.9" stroke="#fff" stroke-width="2.3" stroke-linecap="butt"/>
<line x1="771.9" y1="560.8" x2="874.3" y2="531.0" stroke="#fff" stroke-width="2.3" stroke-linecap="butt"/>
<line x1="779.4" y1="564.9" x2="882.5" y2="535.1" stroke="#fff" stroke-width="2.3" stroke-linecap="butt"/>
<line x1="787.0" y1="569.0" x2="890.8" y2="539.2" stroke="#fff" stroke-width="2.3" stroke-linecap="butt"/>
<line x1="794.5" y1="573.1" x2="899.1" y2="543.2" stroke="#fff" stroke-width="2.3" stroke-linecap="butt"/>
<line x1="802.0" y1="577.2" x2="907.4" y2="547.3" stroke="#fff" stroke-width="2.3" stroke-linecap="butt"/>
<line x1="809.6" y1="581.4" x2="915.7" y2="551.4" stroke="#fff" stroke-width="2.3" stroke-linecap="butt"/>
<path d="M757,507 L848,573" stroke="#141414" stroke-width="3"/>
<path d="M690.5,518.5 L811.3,584.4 L811.9,609 L690.5,539.5 Z" fill="#fff" stroke="#111" stroke-width="1.55"/>
<path d="M811.3,584.4 L926,550.5 L928.8,552.8 L928.8,579.2 L822.4,611 L811.9,611.4 Z" fill="#fff" stroke="#111" stroke-width="1.6"/>
<path d="M813.5,587.2 L928.3,553.3" fill="none" stroke="#111" stroke-width="1.35"/>
<path d="M821.7,590.4 L924.6,561 L924.6,580 L821.7,607.2 Z" fill="none" stroke="#111" stroke-width="1.7"/>
<line x1="873.5" y1="576.5" x2="873.5" y2="592.5" stroke="#111" stroke-width="1.55"/>
<path d="M811.6,609 L811.6,613.5 L822.4,613.5 L822.4,609.5" fill="#fff" stroke="#111" stroke-width="1.6"/>
<path d="M922.5,578.5 L922.5,582 L930.2,582 L930.2,577" fill="#fff" stroke="#111" stroke-width="1.6"/>
<line x1="668.2" y1="453" x2="793.4" y2="415.8" stroke="#111" stroke-width="1.45"/>
<path d="M668.2,453.0 L675.1,453.4 L673.7,448.8 Z" fill="#111"/>
<path d="M793.4,415.8 L786.5,415.4 L787.9,420.0 Z" fill="#111"/>
<line x1="802.2" y1="418.6" x2="941.4" y2="490.6" stroke="#111" stroke-width="1.45"/>
<path d="M802.2,418.6 L806.9,423.7 L809.1,419.5 Z" fill="#111"/>
<path d="M941.4,490.6 L936.7,485.5 L934.5,489.7 Z" fill="#111"/>
<line x1="666.6" y1="457.6" x2="666.6" y2="535.8" stroke="#111" stroke-width="1.45"/>
<path d="M666.6,457.6 L664.2,464.1 L669.0,464.1 Z" fill="#111"/>
<path d="M666.6,535.8 L669.0,529.3 L664.2,529.3 Z" fill="#111"/>
<line x1="942" y1="551.8" x2="942" y2="583.2" stroke="#111" stroke-width="1.45"/>
<path d="M942.0,551.8 L939.6,558.3 L944.4,558.3 Z" fill="#111"/>
<path d="M942.0,583.2 L944.4,576.7 L939.6,576.7 Z" fill="#111"/>
<text transform="translate(725.5,435.3) rotate(-16.5)" text-anchor="middle" font-family="Liberation Sans" font-size="14" fill="#111" stroke="#111" stroke-width="0.35">173 cm</text>
<text transform="translate(871,451) rotate(27.3)" text-anchor="middle" font-family="Liberation Sans" font-size="14" fill="#111" stroke="#111" stroke-width="0.35">222 cm</text>
<text transform="translate(666.2,498.7) rotate(-90)" text-anchor="middle" font-family="Liberation Sans" font-size="14" fill="#111" stroke="#111" stroke-width="0.35">109 cm</text>
<text transform="translate(940.2,567.8) rotate(-90)" text-anchor="middle" font-family="Liberation Sans" font-size="10.2" fill="#111" stroke="#111" stroke-width="0.3">39 cm</text>
<text transform="translate(20,144.7) scale(0.92,1)" font-family="Liberation Sans" font-weight="bold" font-size="32" fill="#000">23</text>
<text transform="translate(470.5,144.5) scale(0.92,1)" font-family="Liberation Sans" font-weight="bold" font-size="32" fill="#000">24</text>
<text transform="translate(170.6,425) scale(0.92,1)" font-family="Liberation Sans" font-weight="bold" font-size="32" fill="#000">25</text>
</svg>
</body></html>
